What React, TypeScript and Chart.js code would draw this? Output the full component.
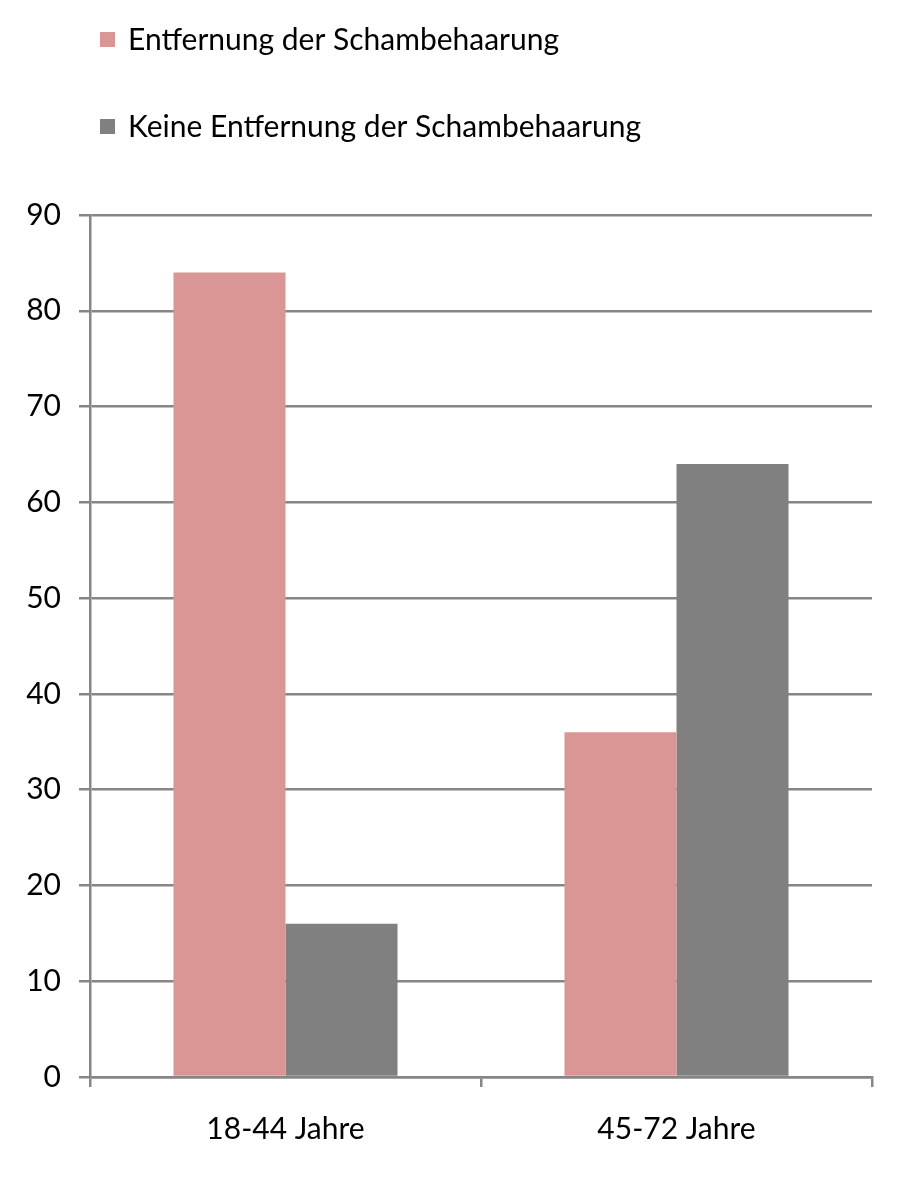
import React, { useEffect, useRef } from 'react';
import { Chart, registerables, Plugin } from 'chart.js';
Chart.register(...registerables);

const categories = ['18-44 Jahre', '45-72 Jahre'];
const seriesNames = ['Entfernung der Schambehaarung', 'Keine Entfernung der Schambehaarung'];
const removalValues = [84, 36];
const noRemovalValues = [16, 64];
const seriesColors = ['#D99694', '#808080'];

const FONT = 'Lato, "Open Sans", sans-serif';

// draws the legend as a left-aligned column above the plot, like the original
const columnLegend: Plugin<'bar'> = {
  id: 'columnLegend',
  afterDraw(chart) {
    const ctx = chart.ctx;
    const rows = [40, 127];
    ctx.save();
    ctx.font = `30px ${FONT}`;
    ctx.textBaseline = 'middle';
    ctx.textAlign = 'left';
    chart.data.datasets.forEach((ds, i) => {
      const y = rows[i];
      ctx.fillStyle = ds.backgroundColor as string;
      ctx.fillRect(100, y - 8, 15, 15);
      ctx.fillStyle = '#000000';
      ctx.fillText(String(ds.label), 128, y);
    });
    ctx.restore();
  },
};

const App: React.FC = () => {
  const canvasRef = useRef<HTMLCanvasElement>(null);

  useEffect(() => {
    if (!canvasRef.current) return;
    const chart = new Chart(canvasRef.current, {
      type: 'bar',
      data: {
        labels: categories,
        datasets: [
          { label: seriesNames[0], data: removalValues, backgroundColor: seriesColors[0] },
          { label: seriesNames[1], data: noRemovalValues, backgroundColor: seriesColors[1] },
        ],
      },
      options: {
        responsive: false,
        animation: false,
        layout: { padding: { top: 215, right: 33, left: 0, bottom: 0 } },
        datasets: { bar: { categoryPercentage: 0.573, barPercentage: 1 } },
        plugins: {
          legend: { display: false },
          tooltip: { enabled: false },
        },
        scales: {
          x: {
            grid: {
              offset: true,
              drawOnChartArea: false,
              drawTicks: true,
              tickLength: 10,
              color: '#868686',
              lineWidth: 2.5,
            },
            border: { color: '#868686', width: 2.5 },
            ticks: {
              color: '#000000',
              font: { family: FONT, size: 30 },
              padding: 24,
            },
            afterFit: (scale) => {
              scale.height = 100;
            },
          },
          y: {
            min: 0,
            max: 90,
            ticks: {
              stepSize: 10,
              color: '#000000',
              font: { family: FONT, size: 30 },
              padding: 18,
            },
            grid: {
              color: '#868686',
              lineWidth: 2.5,
              drawTicks: true,
              tickLength: 11,
            },
            border: { color: '#868686', width: 2.5 },
            afterFit: (scale) => {
              scale.width = 90;
            },
          },
        },
      },
      plugins: [columnLegend],
    });
    return () => chart.destroy();
  }, []);

  return (
    <div style={{ position: 'absolute', left: 0, top: 0, width: 905, height: 1177, background: '#ffffff' }}>
      <canvas ref={canvasRef} width={905} height={1177} style={{ width: 905, height: 1177 }} />
    </div>
  );
};

export default App;
